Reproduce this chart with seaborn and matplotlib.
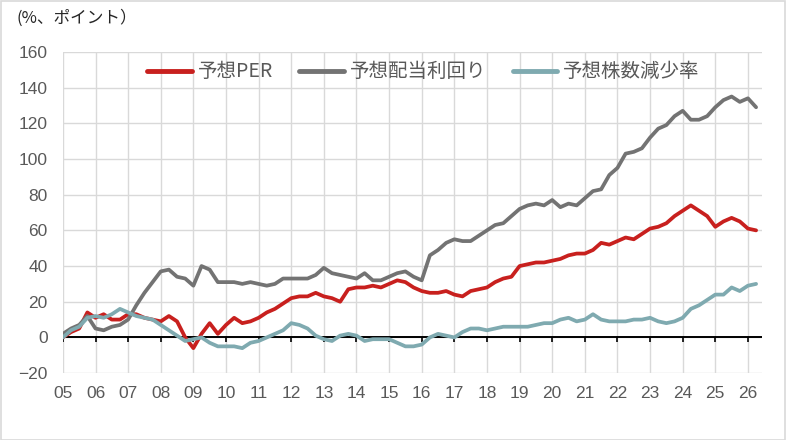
import numpy as np
import pandas as pd
import matplotlib
matplotlib.use("Agg")
import matplotlib.pyplot as plt
import seaborn as sns

# quarterly points, 2005Q1 .. 2026Q2
per = [0, 3, 5, 14, 11, 13, 10, 10, 13, 13, 11, 10, 9, 12, 9, 0,
       -6, 2, 8, 2, 7, 11, 8, 9, 11, 14, 16, 19, 22, 23, 23, 25,
       23, 22, 20, 27, 28, 28, 29, 28, 30, 32, 31, 28, 26, 25, 25, 26,
       24, 23, 26, 27, 28, 31, 33, 34, 40, 41, 42, 42, 43, 44, 46, 47,
       47, 49, 53, 52, 54, 56, 55, 58, 61, 62, 64, 68, 71, 74, 71, 68,
       62, 65, 67, 65, 61, 60]
dividend = [2, 5, 7, 12, 5, 4, 6, 7, 10, 18, 25, 31, 37, 38, 34, 33,
            29, 40, 38, 31, 31, 31, 30, 31, 30, 29, 30, 33, 33, 33, 33, 35,
            39, 36, 35, 34, 33, 36, 32, 32, 34, 36, 37, 34, 32, 46, 49, 53,
            55, 54, 54, 57, 60, 63, 64, 68, 72, 74, 75, 74, 77, 73, 75, 74,
            78, 82, 83, 91, 95, 103, 104, 106, 112, 117, 119, 124, 127, 122, 122, 124,
            129, 133, 135, 132, 134, 129]
shares = [0, 4, 6, 11, 12, 11, 13, 16, 14, 12, 11, 10, 7, 4, 1, -2,
          -1, 0, -3, -5, -5, -5, -6, -3, -2, 0, 2, 4, 8, 7, 5, 1,
          -1, -2, 1, 2, 1, -2, -1, -1, -1, -3, -5, -5, -4, 0, 2, 1,
          0, 3, 5, 5, 4, 5, 6, 6, 6, 6, 7, 8, 8, 10, 11, 9,
          10, 13, 10, 9, 9, 9, 10, 10, 11, 9, 8, 9, 11, 16, 18, 21,
          24, 24, 28, 26, 29, 30]
series_names = ["予想PER", "予想配当利回り", "予想株数減少率"]
year_labels = [f"{y % 100:02d}" for y in range(2005, 2027)]
y_ticks = list(range(-20, 161, 20))

years = 2005 + np.arange(len(per)) / 4
df = pd.DataFrame({
    "year": np.tile(years, 3),
    "value": per + dividend + shares,
    "series": np.repeat(series_names, len(per)),
})

sns.set_theme(style="white")
plt.rcParams["font.family"] = ["Liberation Sans", "Noto Sans CJK JP", "DejaVu Sans"]

colors = {"予想PER": "#C8201E", "予想配当利回り": "#737373", "予想株数減少率": "#7FAAB0"}

fig = plt.figure(figsize=(7.86, 4.40), dpi=100)
ax = fig.add_axes([0.080, 0.152, 0.889, 0.730])

sns.lineplot(data=df, x="year", y="value", hue="series", palette=colors,
             hue_order=series_names, estimator=None, linewidth=2.7, ax=ax,
             legend=True)

ax.set_xlim(2005, 2026.42)
ax.set_ylim(-20, 160)
ax.set_xticks(range(2005, 2027))
ax.set_xticklabels(year_labels)
ax.set_yticks(y_ticks)
ax.grid(True, color="#D9D9D9", linewidth=1.0)
ax.set_axisbelow(True)
for s in ax.spines.values():
    s.set_visible(False)
ax.tick_params(axis="both", length=0, labelsize=12.5, colors="#595959")
ax.tick_params(axis="y", pad=11)
ax.tick_params(axis="x", pad=9)
ax.set_xlabel("")
ax.set_ylabel("")

# zero line with small year ticks
ax.axhline(0, color="black", linewidth=1.4, zorder=1.5)
ax.vlines(range(2005, 2027), -2.6, 0, color="black", linewidth=1.2, zorder=1.5)

handles, labels = ax.get_legend_handles_labels()
for h in handles:
    h.set_linewidth(3.5)
ax.legend(handles, labels, loc="upper center", bbox_to_anchor=(0.516, 1.025),
          ncol=3, frameon=False, handlelength=2.3,
          handletextpad=0.3, columnspacing=1.35,
          prop={"family": ["Noto Sans CJK JP"], "size": 14},
          labelcolor="#595959")

fig.text(17 / 786, 1 - 18 / 440, "(%、ポイント）", fontsize=12, color="#262626",
         va="center", ha="left", family=["Noto Sans CJK JP"])

fig.patches.append(plt.Rectangle((0.001, 0.001), 0.998, 0.997, transform=fig.transFigure,
                                 fill=False, edgecolor="#D9D9D9", linewidth=1.2))

fig.savefig("out.png", dpi=100)
